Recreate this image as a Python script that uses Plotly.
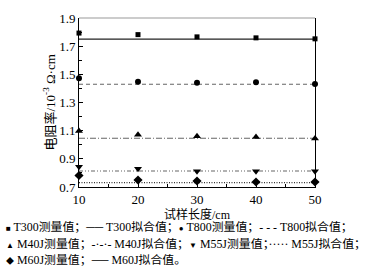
import plotly.graph_objects as go

lengths = [10, 20, 30, 40, 50]
t300 = [1.793, 1.782, 1.766, 1.759, 1.752]
t800 = [1.473, 1.448, 1.441, 1.444, 1.432]
m40j = [1.097, 1.071, 1.060, 1.055, 1.044]
m55j = [0.843, 0.829, 0.811, 0.811, 0.811]
m60j = [0.782, 0.750, 0.743, 0.736, 0.736]
fits = {"T300": 1.750, "T800": 1.430, "M40J": 1.046, "M55J": 0.814, "M60J": 0.731}

y_ticks = [0.7, 0.9, 1.1, 1.3, 1.5, 1.7, 1.9]


def sym(ch):
    return "<span style='font-size:8px'>" + ch + "</span>"


legend_rows = [
    sym("■") + " T300测量值；── T300拟合值；" + sym("●") + " T800测量值；- - - T800拟合值；",
    sym("▲") + " M40J测量值；-·-·- M40J拟合值；" + sym("▼") + " M55J测量值；····· M55J拟合值；",
    sym("◆") + " M60J测量值；── M60J拟合值。",
]

series = [
    ("T300", t300, "square", 5, "solid", "#222"),
    ("T800", t800, "circle", 6, "4px,3px", "#666"),
    ("M40J", m40j, "triangle-up", 7, "6px,2px,1px,2px", "#666"),
    ("M55J", m55j, "triangle-down", 7, "4px,2px,1px,2px,1px,2px", "#666"),
    ("M60J", m60j, "diamond", 7, "1px,1.5px", "#333"),
]

fig = go.Figure()
for name, vals, msym, size, dash, lc in series:
    f = fits[name]
    fig.add_trace(go.Scatter(
        x=[lengths[0], lengths[-1]], y=[f, f], mode="lines",
        line=dict(color=lc, width=1.1, dash=dash), showlegend=False,
        cliponaxis=False))
    fig.add_trace(go.Scatter(
        x=lengths, y=vals, mode="markers",
        marker=dict(symbol=msym, size=size, color="black"),
        showlegend=False, cliponaxis=False))

serif = "Liberation Serif, Noto Sans CJK SC, serif"

fig.update_layout(
    width=376, height=271,
    margin=dict(l=79, r=61, t=11, b=84),
    paper_bgcolor="white", plot_bgcolor="white",
    font=dict(family=serif, size=12, color="black"),
    xaxis=dict(range=[10, 50], dtick=10, tick0=10, showgrid=False, zeroline=False,
               showline=True, linecolor="black", linewidth=1,
               ticks="inside", ticklen=4, tickcolor="black",
               minor=dict(dtick=5, ticks="inside", ticklen=3, tickcolor="black"),
               tickfont=dict(size=13, family=serif),
               title=dict(text="试样长度/cm", standoff=1, font=dict(size=12, family=serif))),
    yaxis=dict(range=[0.7, 1.9], tickvals=y_ticks, showgrid=False, zeroline=False,
               showline=True, linecolor="black", linewidth=1, mirror=True,
               ticks="inside", ticklen=4, tickcolor="black",
               minor=dict(dtick=0.1, tick0=0.7, ticks="inside", ticklen=3, tickcolor="black"),
               tickfont=dict(size=13, family=serif)),
    shapes=[dict(type="line", xref="x domain", yref="y domain", x0=0, x1=1, y0=1, y1=1,
                 line=dict(color="#999", width=1))],
)

fig.add_annotation(text="电阻率/10<sup>-3</sup> Ω·cm", xref="paper", yref="paper",
                   x=-(79 - 49) / 236, y=0.5, textangle=-90, showarrow=False,
                   xanchor="center", yanchor="middle",
                   font=dict(size=13, family=serif))

row_y = [229, 246, 263]
for row, yy in zip(legend_rows, row_y):
    fig.add_annotation(text=row, xref="paper", yref="paper",
                       x=-75 / 236, y=-(yy - 187) / 176,
                       xanchor="left", yanchor="middle", showarrow=False,
                       font=dict(size=11.9, family=serif))

fig.write_html("out.html", config={"displayModeBar": False},
               post_script="document.body.style.margin='0';")
